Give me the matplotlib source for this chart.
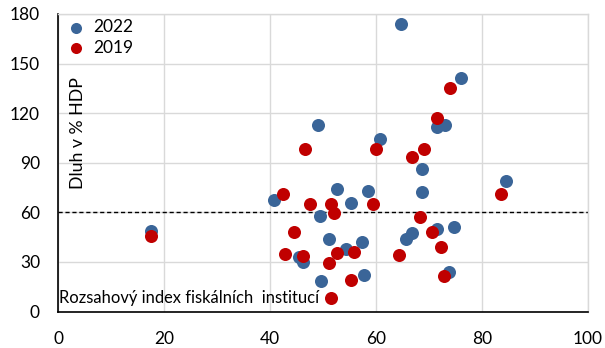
import matplotlib
matplotlib.use("Agg")
import matplotlib.pyplot as plt

x_2022 = [17.5, 40.7, 45.4, 46.2, 49.0, 49.5, 49.7, 51.2, 52.6, 54.4, 55.3, 57.3, 57.8, 58.5,
          60.7, 64.8, 65.7, 66.8, 68.6, 68.6, 71.5, 73.0, 71.6, 74.8, 73.7, 76.1, 84.6]
y_2022 = [49.0, 67.5, 32.8, 30.2, 112.7, 57.8, 18.3, 44.1, 74.0, 38.1, 65.9, 41.9, 22.3, 73.1,
          104.6, 174.0, 44.2, 47.5, 86.1, 72.4, 111.9, 112.7, 49.8, 51.4, 24.1, 141.0, 78.8]
x_2019 = [17.5, 42.5, 42.8, 44.5, 46.2, 46.6, 47.5, 51.2, 51.5, 51.5, 52.0, 52.6, 55.3, 55.8,
          59.5, 60.0, 64.3, 66.8, 68.3, 69.0, 70.5, 71.5, 72.3, 72.8, 74.0, 83.6]
y_2019 = [45.7, 71.0, 35.0, 48.3, 33.8, 98.2, 65.3, 29.6, 65.3, 8.0, 59.5, 35.3, 19.1, 36.1,
          65.3, 98.2, 34.4, 93.3, 57.0, 98.2, 48.3, 116.9, 39.3, 21.5, 135.1, 71.0]
threshold = 60
x_ticks = [0, 20, 40, 60, 80, 100]
y_ticks = [0, 30, 60, 90, 120, 150, 180]

plt.rcParams['font.family'] = ['Lato', 'DejaVu Sans']

fig = plt.figure(figsize=(6.05, 3.48), dpi=100)
ax = fig.add_axes([0.0959, 0.1046, 0.8760, 0.8552])

blue = '#3A6598'
red = '#C00000'
ax.scatter(x_2022, y_2022, s=88, color=blue, linewidths=0, zorder=3, label='2022')
ax.scatter(x_2019, y_2019, s=88, color=red, linewidths=0, zorder=4, label='2019')
ax.axhline(threshold, color='black', linestyle=(0, (3, 2)), linewidth=1.0, zorder=2)

ax.set_xlim(0, 100)
ax.set_ylim(0, 180)
ax.set_xticks(x_ticks)
ax.set_yticks(y_ticks)
ax.grid(True, color='#D9D9D9', linewidth=1.0, zorder=0)
ax.set_axisbelow(True)
for s in ['top', 'right']:
    ax.spines[s].set_color('#D9D9D9')
    ax.spines[s].set_linewidth(1.0)
for s in ['left', 'bottom']:
    ax.spines[s].set_color('black')
    ax.spines[s].set_linewidth(1.2)
ax.tick_params(axis='both', length=0, labelsize=12.5)
ax.tick_params(axis='x', pad=14)
ax.tick_params(axis='y', pad=13)

leg = ax.legend(loc='upper left', frameon=False, fontsize=12.5, handletextpad=0.0,
                borderaxespad=0.0, bbox_to_anchor=(-0.012, 1.005), labelspacing=0.25,
                markerscale=0.85)

ax.text(0.037, 0.6, 'Dluh v % HDP', rotation=90, transform=ax.transAxes,
        ha='center', va='center', fontsize=12.8)
ax.text(0.002, 0.045, 'Rozsahový index fiskálních  institucí', transform=ax.transAxes,
        ha='left', va='center', fontsize=11.9)

fig.savefig('out.png', dpi=100)
